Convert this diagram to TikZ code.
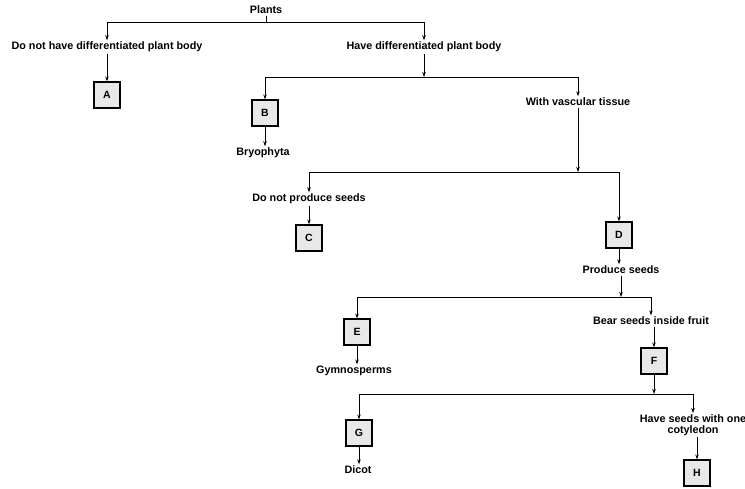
\documentclass[tikz,border=0pt]{standalone}
\usepackage{fontspec}
\setmainfont{Liberation Sans}
\usetikzlibrary{arrows.meta}
\begin{document}
\begin{tikzpicture}[x=1pt,y=-1pt,
  lbl/.style={font=\fontsize{10.8}{11.5}\selectfont\bfseries, inner sep=1.5pt, align=center},
  box/.style={draw, line width=1.2pt, fill=gray!18, minimum size=26pt, inner sep=0pt, font=\fontsize{10.5}{11}\selectfont\bfseries},
  arr/.style={-{Stealth[length=5pt,width=3.5pt]}, line width=0.8pt},
  ln/.style={line width=0.8pt}]
\useasboundingbox (0,0) rectangle (745,488);
% nodes
\node[lbl] (plants) at (266,10) {Plants};
\node[lbl] (nodiff) at (107,47) {Do not have differentiated plant body};
\node[box] (A) at (107,95) {A};
\node[lbl] (diff) at (424,47) {Have differentiated plant body};
\node[box] (B) at (265,113) {B};
\node[lbl] (bryo) at (263,153) {Bryophyta};
\node[lbl] (vasc) at (578,102) {With vascular tissue};
\node[lbl] (noseed) at (309,199) {Do not produce seeds};
\node[box] (C) at (309,238) {C};
\node[box] (D) at (619,235) {D};
\node[lbl] (prod) at (621,270) {Produce seeds};
\node[box] (E) at (357,332) {E};
\node[lbl] (gym) at (354,371) {Gymnosperms};
\node[lbl] (bear) at (651,321) {Bear seeds inside fruit};
\node[box] (F) at (654,361) {F};
\node[box] (G) at (359,433) {G};
\node[lbl] (dicot) at (358,470) {Dicot};
\node[lbl] (mono) at (693,425) {Have seeds with one\\[-1pt]cotyledon};
\node[box] (H) at (697,473) {H};
% junctions
\coordinate (j1) at (266,22);
\coordinate (j2) at (424,77);
\coordinate (j3) at (578,172);
\coordinate (j4) at (621,297);
\coordinate (j5) at (654,394);
% connectors
\draw[ln] (plants) -- (j1);
\draw[arr] (j1) -| (nodiff);
\draw[arr] (j1) -| (diff);
\draw[arr] (nodiff) -- (A);
\draw[arr] (diff) -- (j2);
\draw[arr] (j2) -| (B);
\draw[arr] (j2) -| (vasc);
\draw[arr] (B) -- (B |- bryo.north);
\draw[arr] (vasc) -- (j3);
\draw[arr] (j3) -| (noseed);
\draw[arr] (j3) -| (D);
\draw[arr] (noseed) -- (C);
\draw[arr] (D) -- (D |- prod.north);
\draw[arr] (prod) -- (j4);
\draw[arr] (j4) -| (E);
\draw[arr] (j4) -| (bear);
\draw[arr] (E) -- (E |- gym.north);
\draw[arr] (bear.south -| F) -- (F);
\draw[arr] (F) -- (j5);
\draw[arr] (j5) -| (G);
\draw[arr] (j5) -| (mono);
\draw[arr] (G) -- (G |- dicot.north);
\draw[arr] (mono.south -| H) -- (H);
\end{tikzpicture}
\end{document}
